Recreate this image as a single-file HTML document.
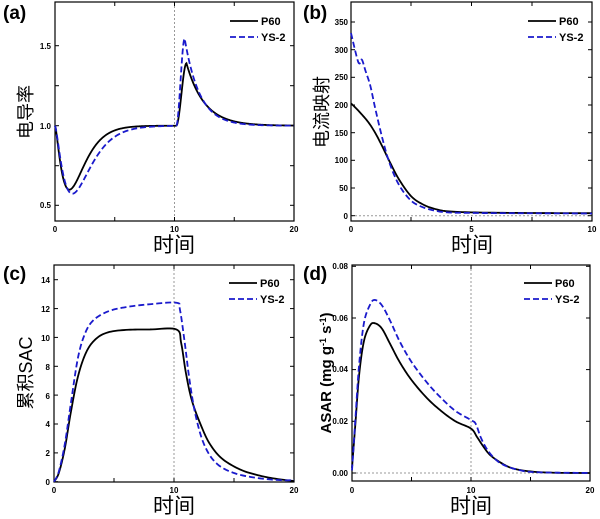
<!DOCTYPE html>
<html><head><meta charset="utf-8"><style>
body{margin:0;background:#fff}
svg{display:block}
text{font-family:"Liberation Sans","Noto Sans CJK SC",sans-serif}
.t{font-size:8px;font-weight:bold}
.lg{font-size:11px;font-weight:bold}
.pl{font-size:19px;font-weight:bold}
.ax{font-size:21px}
.ay{font-size:18px}
</style></head><body>
<svg id="s" width="600" height="519" viewBox="0 0 600 519" xmlns="http://www.w3.org/2000/svg">
<g fill="none" stroke="#000" stroke-width="1.2">
<rect x="55" y="2" width="239" height="219"/>
<rect x="351" y="2" width="241" height="219"/>
<rect x="54" y="265" width="240" height="217"/>
<rect x="352" y="265" width="238" height="216"/>
</g>
<g stroke="#999" stroke-width="1" stroke-dasharray="2,2">
<line x1="174.5" y1="2" x2="174.5" y2="221"/>
<line x1="351" y1="215.7" x2="592" y2="215.7"/>
<line x1="174" y1="265" x2="174" y2="482"/>
<line x1="471" y1="265" x2="471" y2="481"/>
<line x1="352" y1="473" x2="590" y2="473"/>
</g>
<g id="ticks" stroke="#000" stroke-width="1"></g>
<g id="curves" fill="none" stroke-width="1.8"></g>
<!-- panel labels -->
<text class="pl" x="3" y="19">(a)</text>
<text class="pl" x="303" y="19">(b)</text>
<text class="pl" x="3" y="280">(c)</text>
<text class="pl" x="303" y="280">(d)</text>
<!-- tick labels a -->
<g class="t" text-anchor="end">
<text x="51" y="49">1.5</text><text x="51" y="129">1.0</text><text x="51" y="208">0.5</text>
<text x="348" y="25">350</text><text x="348" y="53">300</text><text x="348" y="80">250</text><text x="348" y="108">200</text><text x="348" y="136">150</text><text x="348" y="163">100</text><text x="348" y="191">50</text><text x="348" y="219">0</text>
<text x="50" y="283">14</text><text x="50" y="312">12</text><text x="50" y="341">10</text><text x="50" y="370">8</text><text x="50" y="399">6</text><text x="50" y="427">4</text><text x="50" y="456">2</text><text x="50" y="485">0</text>
<text x="348" y="269">0.08</text><text x="348" y="321">0.06</text><text x="348" y="372">0.04</text><text x="348" y="424">0.02</text><text x="348" y="476">0.00</text>
</g>
<g class="t" text-anchor="middle">
<text x="55" y="232">0</text><text x="174.5" y="232">10</text><text x="294" y="232">20</text>
<text x="351" y="232">0</text><text x="471.5" y="232">5</text><text x="592" y="232">10</text>
<text x="54" y="493">0</text><text x="174" y="493">10</text><text x="294" y="493">20</text>
<text x="352" y="493">0</text><text x="471" y="493">10</text><text x="590" y="493">20</text>
</g>
<g class="ax" text-anchor="middle">
<text x="174" y="252">时间</text><text x="472" y="252">时间</text>
<text x="174" y="513">时间</text><text x="471" y="513">时间</text>
</g>
<text class="ay" transform="translate(32,112) rotate(-90)" text-anchor="middle">电导率</text>
<text class="ay" transform="translate(328,112) rotate(-90)" text-anchor="middle">电流映射</text>
<text class="ay" transform="translate(32,373) rotate(-90)" text-anchor="middle">累积SAC</text>
<text transform="translate(331,373) rotate(-90)" text-anchor="middle" style="font-size:15px;font-weight:bold">ASAR (mg g<tspan dy="-5" style="font-size:9px">-1</tspan><tspan dy="5"> s</tspan><tspan dy="-5" style="font-size:9px">-1</tspan><tspan dy="5">)</tspan></text>
<!-- legends -->
<g stroke-width="1.8">
<line x1="230" y1="21" x2="258" y2="21" stroke="#000"/>
<line x1="230" y1="37" x2="258" y2="37" stroke="#1a1acc" stroke-dasharray="6,3"/>
<line x1="528" y1="21" x2="556" y2="21" stroke="#000"/>
<line x1="528" y1="37" x2="556" y2="37" stroke="#1a1acc" stroke-dasharray="6,3"/>
<line x1="229" y1="283" x2="257" y2="283" stroke="#000"/>
<line x1="229" y1="299" x2="257" y2="299" stroke="#1a1acc" stroke-dasharray="6,3"/>
<line x1="524" y1="283" x2="552" y2="283" stroke="#000"/>
<line x1="524" y1="299" x2="552" y2="299" stroke="#1a1acc" stroke-dasharray="6,3"/>
</g>
<g class="lg">
<text x="261" y="25">P60</text><text x="261" y="41">YS-2</text>
<text x="559" y="25">P60</text><text x="559" y="41">YS-2</text>
<text x="260" y="287">P60</text><text x="260" y="303">YS-2</text>
<text x="555" y="287">P60</text><text x="555" y="303">YS-2</text>
</g>
</svg>
<script>
var NS="http://www.w3.org/2000/svg",C=document.getElementById("curves"),T=document.getElementById("ticks");
function P(pts,mx,my,col,dash){var d="";for(var i=0;i<pts.length;i++){d+=(i?"L":"M")+mx(pts[i][0]).toFixed(2)+","+my(pts[i][1]).toFixed(2);}
var p=document.createElementNS(NS,"path");p.setAttribute("d",d);p.setAttribute("stroke",col);if(dash)p.setAttribute("stroke-dasharray","6,3");C.appendChild(p);}
function spline(k){var o=[];for(var i=0;i<k.length-1;i++){var p0=k[Math.max(0,i-1)],p1=k[i],p2=k[i+1],p3=k[Math.min(k.length-1,i+2)];for(var j=0;j<10;j++){var t=j/10,t2=t*t,t3=t2*t;var f=function(a,b,c,d){return 0.5*(2*b+(-a+c)*t+(2*a-5*b+4*c-d)*t2+(-a+3*b-3*c+d)*t3)};o.push([f(p0[0],p1[0],p2[0],p3[0]),f(p0[1],p1[1],p2[1],p3[1])]);}}o.push(k[k.length-1]);return o;}
function L(x1,y1,x2,y2){var l=document.createElementNS(NS,"line");l.setAttribute("x1",x1);l.setAttribute("y1",y1);l.setAttribute("x2",x2);l.setAttribute("y2",y2);T.appendChild(l);}
function ticks(xs,ys,l,r,t,b){xs.forEach(function(x){L(x,b,x,b-4);L(x,t,x,t+4);});ys.forEach(function(y){L(l,y,l+4,y);L(r,y,r-4,y);});}
ticks([55,114.75,174.5,234.25,294],[45.7,85.7,125.7,165.7,205.3],55,294,2,221);
ticks([351,411,471.5,532,592],[22,49.7,77.3,105,132.7,160.3,188,215.7],351,592,2,221);
ticks([54,114,174,234,294],[279.7,308.6,337.4,366.3,395.1,424,452.9,481.7],54,294,265,482);
ticks([352,411.5,471,530.5,590],[266.3,318,369.6,421.3,473],352,590,265,481);
var BL="#1a1acc";
// (a)
var ax=function(t){return 55+t*11.95},ay=function(v){return 125.7-(v-1)*160};
function fa(t,A,tp,B,tr,tk,tau){var v;if(t<=10.15){var x=t/tp;v=1-A*Math.pow(x,1.5)*Math.exp(1.5*(1-x));}
else{var s=t-10.15;if(s<tk){var u=s/tk;v=1+B*(u*u*(3-2*u));}else v=1+B*Math.exp(-(s-tk)/tau);}return v;}
var a1=[],a2=[];for(var t=0;t<=20;t+=0.04){a1.push([t,fa(t,0.4,1.2,0.39,0.85,0.85,1.5)]);a2.push([t,fa(t,0.425,1.45,0.545,0.7,0.7,1.25)]);}
P(a1,ax,ay,"#000");P(a2,ax,ay,BL,1);
// (b)
var bx=function(t){return 351+t*24.1},by=function(v){return 215.7-v*0.5534};
P(spline([[0,203],[0.3,190],[0.7,170],[1.0,150],[1.3,125],[1.6,98],[2.0,65],[2.5,35],[3,20],[3.5,12],[4,8],[5,6],[7,5],[10,4.5]]),bx,by,"#000");
P(spline([[0,330],[0.25,285],[0.35,275],[0.45,282],[0.6,262],[0.8,235],[1.0,195],[1.3,140],[1.6,95],[2.0,55],[2.5,27],[3,15],[3.5,9],[4,6],[5,5],[7,4.5],[10,4]]),bx,by,BL,1);
// (c)
var cx=function(t){return 54+t*12},cy=function(v){return 481.7-v*14.43};
P(spline([[0,0],[0.4,0.6],[0.9,2.3],[1.4,4.8],[2,7.3],[2.7,9.0],[3.5,9.9],[4.5,10.35],[6,10.52],[8,10.55],[10.2,10.55],[10.6,9.6],[11,7.5],[11.5,5.6],[12.3,3.8],[13,2.6],[14,1.6],[15.5,0.85],[17,0.45],[18.5,0.2],[20,0.05]]),cx,cy,"#000");
P(spline([[0,0],[0.4,0.7],[0.9,2.6],[1.4,5.4],[2,8.6],[2.6,10.3],[3.3,11.2],[4.5,11.8],[6,12.1],[8,12.3],[10.2,12.4],[10.5,11.9],[10.9,9.6],[11.3,7],[11.8,4.6],[12.5,2.6],[13.5,1.3],[15,0.6],[17,0.25],[19,0.1],[20,0.12]]),cx,cy,BL,1);
// (d)
var dx=function(t){return 352+t*11.9},dy=function(v){return 473-v*2583};
P(spline([[0,0.002],[0.3,0.02],[0.6,0.038],[1.0,0.051],[1.5,0.057],[1.9,0.058],[2.5,0.056],[3.2,0.05],[4,0.043],[5,0.036],[6.3,0.029],[7.5,0.024],[8.7,0.02],[10,0.0172],[10.5,0.014],[11,0.0105],[11.6,0.007],[12.5,0.004],[13.5,0.0018],[15,0.0006],[17,0.0001],[20,0]]),dx,dy,"#000");
P(spline([[0,0.001],[0.3,0.022],[0.6,0.042],[1.0,0.058],[1.5,0.065],[1.9,0.067],[2.5,0.065],[3.2,0.059],[4,0.051],[5,0.043],[6.3,0.035],[7.5,0.029],[8.7,0.024],[10,0.0205],[10.4,0.019],[10.8,0.014],[11.3,0.0095],[12,0.0055],[12.8,0.003],[14,0.0012],[15.5,0.0003],[20,0]]),dx,dy,BL,1);
</script>
</body></html>
